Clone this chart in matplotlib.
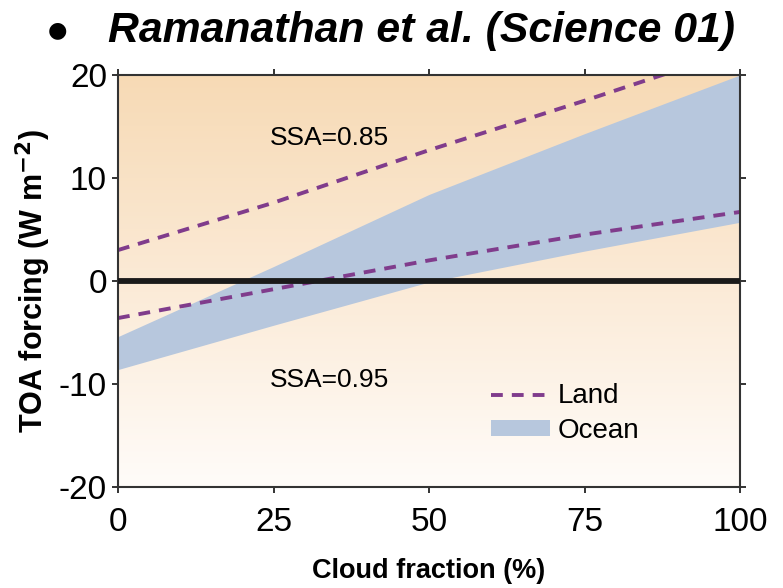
import numpy as np
import matplotlib
matplotlib.use("Agg")
import matplotlib.pyplot as plt
from matplotlib.colors import LinearSegmentedColormap

# cloud fraction (%) and TOA forcing (W m-2)
nubes = [0, 25, 50, 75, 100]
tierra_ssa085 = [3.0, 7.6, 12.7, 17.5, 22.5]
tierra_ssa095 = [-3.6, -0.8, 2.0, 4.5, 6.7]
oceano_sup = [-5.4, 1.4, 8.4, 14.3, 20.0]
oceano_inf = [-8.6, -4.3, -0.1, 2.9, 5.7]

xticks = [0, 25, 50, 75, 100]
yticks = [-20, -10, 0, 10, 20]

plt.rcParams['font.family'] = ['Liberation Sans', 'DejaVu Sans']
plt.rcParams['lines.scale_dashes'] = False
plt.rcParams['axes.unicode_minus'] = False

fig = plt.figure(figsize=(7.83, 5.88), dpi=100)
ax = fig.add_axes([0.1507, 0.1718, 0.7944, 0.7007])

# fondo degradado naranja -> blanco
fondo = LinearSegmentedColormap.from_list('fondo', ['#FFFCF9', '#FBEAD6', '#F7DAB5'])
grad = np.linspace(0, 1, 256).reshape(-1, 1)
ax.imshow(grad, cmap=fondo, origin='lower', aspect='auto',
          extent=[0, 100, -20, 20], zorder=0)

ax.fill_between(nubes, oceano_inf, oceano_sup, color='#B7C7DD', lw=0,
                label='Ocean', zorder=1)
ax.plot(nubes, tierra_ssa085, color='#803C8C', lw=2.8, ls=(0, (8.5, 6.5)),
        label='Land', zorder=2)
ax.plot(nubes, tierra_ssa095, color='#803C8C', lw=2.8, ls=(0, (8.5, 6.5)),
        zorder=2)
ax.axhline(0, color='#1a1a1a', lw=4.2, zorder=3)

ax.text(34, 13.9, 'SSA=0.85', ha='center', va='center', fontsize=19)
ax.text(34, -9.6, 'SSA=0.95', ha='center', va='center', fontsize=19)

ax.set_xlim(0, 100)
ax.set_ylim(-20, 20)
ax.set_xticks(xticks)
ax.set_yticks(yticks)
ax.tick_params(direction='out', length=4.5, width=1.4, color='#333333',
               labelsize=24, top=True, right=True, pad=3.5)
ax.tick_params(axis='x', pad=10)
for s in ax.spines.values():
    s.set_color('#333333')
    s.set_linewidth(1.5)

ax.set_xlabel('Cloud fraction (%)', fontsize=19.5, fontweight='bold',
              labelpad=14)
ax.set_ylabel('TOA forcing (W m$^{\\mathbf{-2}}$)', fontsize=22,
              fontweight='bold', labelpad=4)

h, l = ax.get_legend_handles_labels()
ax.legend(h[::-1], l[::-1], loc='center left', bbox_to_anchor=(0.6, 0.178),
          frameon=False, prop={'size': 20},
          handlelength=2.1, handleheight=0.5, handletextpad=0.3,
          labelspacing=0.3, borderpad=0, borderaxespad=0)

fig.text(0.061, 0.948, '\u25cf', fontsize=16, ha='left', va='center',
         family=['DejaVu Sans'])
fig.text(0.138, 0.948, 'Ramanathan et al. (Science 01)', fontsize=30.8,
         fontweight='bold', fontstyle='italic', ha='left', va='center')

fig.savefig('out.png', dpi=100)
